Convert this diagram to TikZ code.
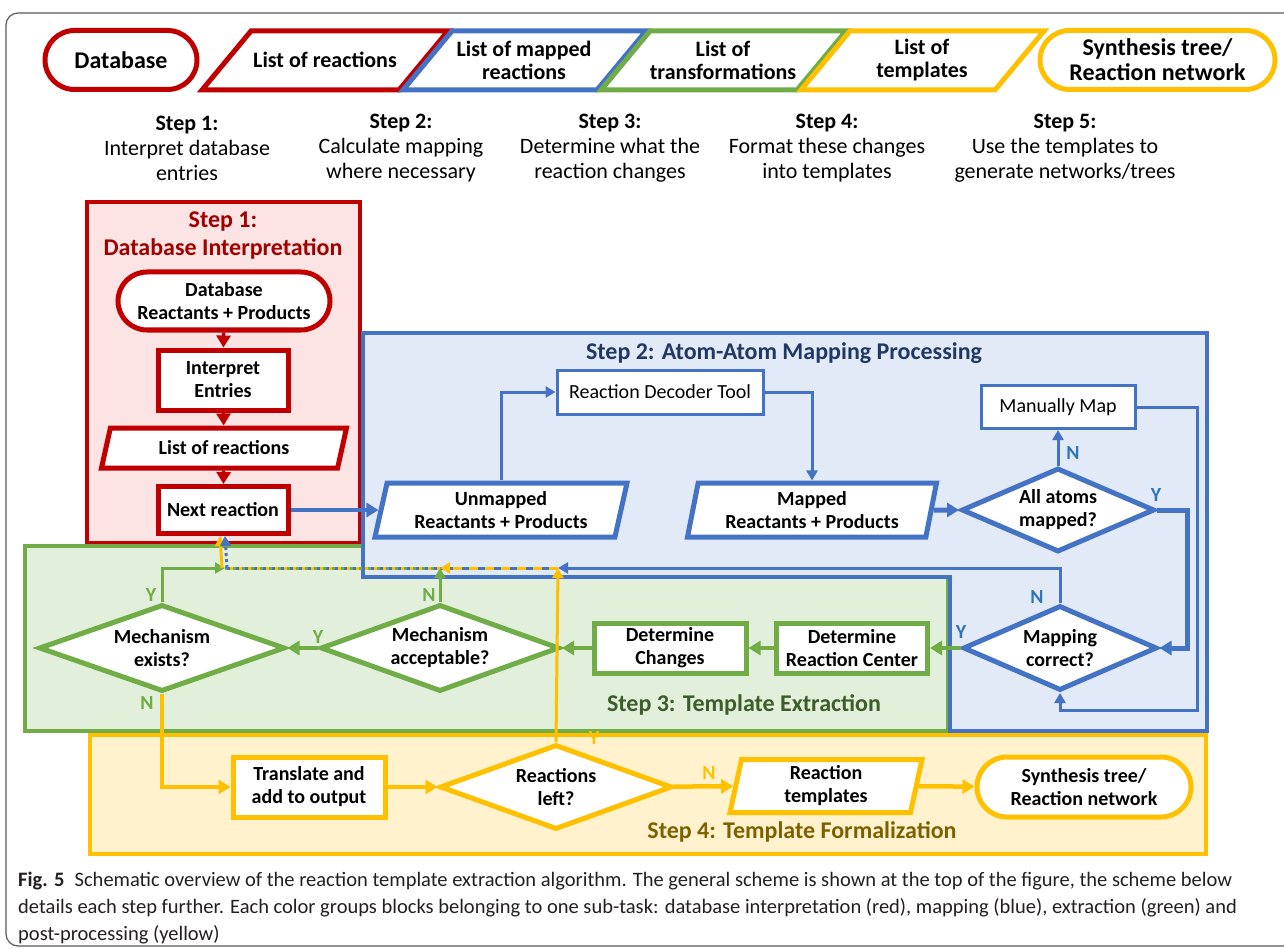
\documentclass[tikz,border=0pt]{standalone}
\usepackage{fontspec}
\setmainfont{Carlito}
\usepackage{tikz}
\usetikzlibrary{shapes, arrows, arrows.meta}
\usetikzlibrary{positioning}

\definecolor{dbred}{HTML}{C00000}
\definecolor{dbredfill}{HTML}{FCE4E4}
\definecolor{dbredtext}{HTML}{A00000}
\definecolor{mapblue}{HTML}{4472C4}
\definecolor{mapbluefill}{HTML}{E3EAF7}
\definecolor{mapbluetext}{HTML}{1F3864}
\definecolor{mapbluelbl}{HTML}{2E75B6}
\definecolor{extgreen}{HTML}{70AD47}
\definecolor{extgreenfill}{HTML}{E2EFDA}
\definecolor{extgreentext}{HTML}{3B5E2B}
\definecolor{postyellow}{HTML}{FFC000}
\definecolor{postyellowfill}{HTML}{FFF2CC}
\definecolor{postyellowtext}{HTML}{7F6000}
\definecolor{captiontext}{HTML}{231F20}

\tikzset{
  boxtext/.style={font=\fontsize{20}{23}\selectfont\bfseries, align=center, text=black},
  procbox/.style={boxtext, rectangle, fill=white, line width=5pt, inner sep=0pt},
  thinbox/.style={rectangle, fill=white, line width=3pt, font=\fontsize{20}{23}\selectfont, inner sep=0pt},
  termbox/.style={boxtext, rounded rectangle, fill=white, line width=5pt, inner sep=0pt},
  iobox/.style={boxtext, trapezium, trapezium stretches body, fill=white, line width=5pt, inner sep=0pt},
  decbox/.style={boxtext, diamond, aspect=2.6, fill=white, line width=5pt, inner sep=0pt},
  toppill/.style={rounded rectangle, fill=white, line width=5pt, inner sep=0pt, minimum height=59, align=center, font=\fontsize{24}{25}\selectfont\bfseries},
  topshape/.style={fill=white, line width=5pt, line join=miter},
  toplabel/.style={align=center, font=\fontsize{22}{23}\selectfont\bfseries},
  toptext/.style={font=\fontsize{22}{25}\selectfont, align=center},
  areahead/.style={font=\fontsize{24}{28}\selectfont\bfseries, align=center},
  flow/.style={line width=3.5pt, -{Triangle[length=12pt, width=14pt]}},
  thinflow/.style={line width=3pt, -{Triangle[length=10pt, width=11pt]}},
  yn/.style={font=\fontsize{20}{20}\selectfont\bfseries, inner sep=0pt},
}

\begin{document}
\begin{tikzpicture}[x=1pt, y=-1pt]
\useasboundingbox (0,0) rectangle (1284,949);
\draw[black!65, line width=1.2pt, rounded corners=12pt] (1300,13) -- (6,13) -- (6,946) -- (1300,946);

% general scheme
\node[toppill, draw=dbred, minimum width=152] (topdb) at (121,60) {Database};
\draw[topshape, draw=dbred] (251,31) -- (448,31) -- (399,90) -- (202,90) -- cycle;
\draw[topshape, draw=mapblue] (452,31) -- (646,31) -- (597,90) -- (403,90) -- cycle;
\draw[topshape, draw=extgreen] (650,31) -- (846,31) -- (797,90) -- (601,90) -- cycle;
\draw[topshape, draw=postyellow] (850,31) -- (1044,31) -- (995,90) -- (801,90) -- cycle;
\node[toplabel] (toplist) at (325,60) {List of reactions};
\node[toplabel] (topmap) at (524,60) {List of mapped\\reactions};
\node[toplabel] (toptrans) at (723,60) {List of\\transformations};
\node[toplabel] (toptempl) at (922,60) {List of\\templates};
\node[toppill, draw=postyellow, minimum width=235] (topsyn) at (1157.5,60) {Synthesis tree/\\Reaction network};

\node[toptext] (stepa) at (187,148) {\textbf{Step 1:}\\Interpret database\\entries};
\node[toptext] (stepb) at (401,148) {\textbf{Step 2:}\\Calculate mapping\\where necessary};
\node[toptext] (stepc) at (610,148) {\textbf{Step 3:}\\Determine what the\\reaction changes};
\node[toptext] (stepd) at (827,148) {\textbf{Step 4:}\\Format these changes\\into templates};
\node[toptext] (stepe) at (1065,148) {\textbf{Step 5:}\\Use the templates to\\generate networks/trees};

% sub-task areas
\draw[dbred, fill=dbredfill, line width=3.5pt] (87,202) rectangle (360,543);
\draw[extgreen, fill=extgreenfill, line width=3.5pt] (25,546) rectangle (948,731);
\draw[mapblue, fill=mapbluefill, line width=3.5pt] (363,333) -- (1207,333) -- (1207,731) -- (950,731) -- (950,577) -- (363,577) -- cycle;
\draw[postyellow, fill=postyellowfill, line width=3.5pt] (90,735) rectangle (1206,854);

\node[areahead, text=dbredtext] (heada) at (223,236) {Step 1:\\Database Interpretation};
\node[areahead, text=mapbluetext] (headb) at (784,353) {Step 2: Atom-Atom Mapping Processing};
\node[areahead, text=extgreentext] (headc) at (744,705) {Step 3: Template Extraction};
\node[areahead, text=postyellowtext] (headd) at (802,832) {Step 4: Template Formalization};

% step 1
\node[termbox, draw=dbred, minimum width=212, minimum height=58] (dbentry) at (224,301) {Database\\Reactants + Products};
\node[procbox, draw=dbred, minimum width=130, minimum height=60] (interp) at (223,380) {Interpret\\Entries};
\node[iobox, draw=dbred, trapezium left angle=58, trapezium right angle=122, minimum width=245, minimum height=40] (reaclist) at (224,448) {List of reactions};
\node[procbox, draw=dbred, minimum width=130, minimum height=47] (nextreac) at (223,510) {Next reaction};

% step 2
\node[iobox, draw=mapblue, trapezium left angle=72, trapezium right angle=108, minimum width=252, minimum height=54] (unmapped) at (501,510) {Unmapped\\Reactants + Products};
\node[thinbox, draw=mapblue, minimum width=206, minimum height=44] (rdt) at (660,392) {Reaction Decoder Tool};
\node[iobox, draw=mapblue, trapezium left angle=74, trapezium right angle=106, minimum width=249, minimum height=54] (mapped) at (812,510) {Mapped\\Reactants + Products};
\node[decbox, draw=mapblue, minimum width=193, minimum height=84] (allmapped) at (1058,510) {All atoms\\mapped?};
\node[thinbox, draw=mapblue, minimum width=154, minimum height=43] (manual) at (1058,407) {Manually Map};
\node[decbox, draw=mapblue, minimum width=194, minimum height=85] (mapok) at (1060,648) {Mapping\\correct?};

% step 3
\node[procbox, draw=extgreen, minimum width=151, minimum height=50] (rcenter) at (852,648) {Determine\\Reaction Center};
\node[procbox, draw=extgreen, minimum width=152, minimum height=50] (changes) at (670,648) {Determine\\Changes};
\node[decbox, draw=extgreen, minimum width=239, minimum height=87] (mechok) at (440,648) {Mechanism\\acceptable?};
\node[decbox, draw=extgreen, minimum width=246, minimum height=87] (mechex) at (162,648) {Mechanism\\exists?};

% step 4
\node[procbox, draw=postyellow, minimum width=152, minimum height=60] (translate) at (309,787) {Translate and\\add to output};
\node[decbox, draw=postyellow, minimum width=232, minimum height=85] (remaining) at (556,787) {Reactions\\left?};
\node[iobox, draw=postyellow, trapezium left angle=74, trapezium right angle=106, minimum width=192, minimum height=53] (templ) at (826,786) {Reaction\\templates};
\node[termbox, draw=postyellow, minimum width=214, minimum height=60] (output) at (1084,787) {Synthesis tree/\\Reaction network};

% joints of the return line
\coordinate (jA) at (558,568);
\coordinate (jB) at (440,568);
\coordinate (jC) at (225,568);

% connectors
\draw[flow, dbred] (dbentry) -- (interp);
\draw[flow, dbred] (interp) -- (reaclist);
\draw[flow, dbred] (reaclist) -- (nextreac);

\draw[flow, mapblue] (nextreac) -- (unmapped);
\draw[thinflow, mapblue] (unmapped.north) |- (rdt);
\draw[thinflow, mapblue] (rdt) -| (mapped);
\draw[flow, mapblue, line width=5pt] (mapped) -- (allmapped);
\draw[thinflow, mapblue] (allmapped) -- (manual);
\draw[flow, mapblue, line width=5pt] (allmapped.east) -- ++(30,0) |- (mapok.east);
\draw[thinflow, mapblue] (manual.east) -| (1197,710) -| (mapok.south);
\draw[thinflow, mapblue] (mapok.north) |- (jA);

\draw[flow, extgreen, line width=4.5pt] (mapok) -- (rcenter);
\draw[flow, extgreen, line width=4.5pt] (rcenter) -- (changes);
\draw[flow, extgreen, line width=4.5pt] (changes) -- (mechok);
\draw[flow, extgreen, line width=4.5pt] (mechok) -- (mechex);

\draw[flow, postyellow, line width=4.5pt] (mechex.south) |- (translate);
\draw[flow, postyellow, line width=4.5pt] (translate) -- (remaining);
\draw[flow, postyellow, line width=4.5pt] (remaining) -- (templ);
\draw[flow, postyellow, line width=4.5pt] (templ) -- (output);
\draw[thinflow, postyellow] (remaining.north) -- (jA);

% shared return line
\draw[mapblue, line width=3pt] (jA) -- (jB);
\draw[thinflow, postyellow, dash pattern=on 9pt off 7pt] (jA) -- (jB);
\draw[thinflow, extgreen] (mechok) -- (jB);
\draw[mapblue, line width=3pt] (jB) -- (jC);
\draw[postyellow, line width=3pt, dash pattern=on 3pt off 6pt] (jB) -- (jC);
\draw[extgreen, line width=3pt, dash pattern=on 3pt off 6pt, dash phase=3pt] (jB) -- (jC);
\draw[thinflow, extgreen] (mechex.north) |- (jC);
\draw[thinflow, postyellow] ([xshift=-3pt]jC) -- ([xshift=-3pt]nextreac.south);
\draw[thinflow, mapblue, dash pattern=on 3pt off 3pt] ([xshift=2pt]jC) -- ([xshift=2pt]nextreac.south);

% Y / N labels
\node[yn, text=mapbluelbl] (ynA) at (1073,453) {N};
\node[yn, text=mapbluelbl] (ynB) at (1156,495) {Y};
\node[yn, text=mapbluelbl] (ynC) at (1037,597) {N};
\node[yn, text=mapbluelbl] (ynD) at (961,632) {Y};
\node[yn, text=extgreen] (ynE) at (151,595) {Y};
\node[yn, text=extgreen] (ynF) at (147,703) {N};
\node[yn, text=extgreen] (ynG) at (318,637) {Y};
\node[yn, text=extgreen] (ynH) at (429,595) {N};
\node[yn, text=postyellow] (ynI) at (594,738) {Y};
\node[yn, text=postyellow] (ynJ) at (709,773) {N};

% caption
\node[anchor=north west, align=left, text=captiontext, font=\fontsize{20.5}{27}\selectfont, inner sep=0pt] (caption) at (18,872) {\textbf{Fig. 5}\enspace Schematic overview of the reaction template extraction algorithm. The general scheme is shown at the top of the figure, the scheme below\\details each step further. Each color groups blocks belonging to one sub-task: database interpretation (red), mapping (blue), extraction (green) and\\post-processing (yellow)};
\end{tikzpicture}
\end{document}
